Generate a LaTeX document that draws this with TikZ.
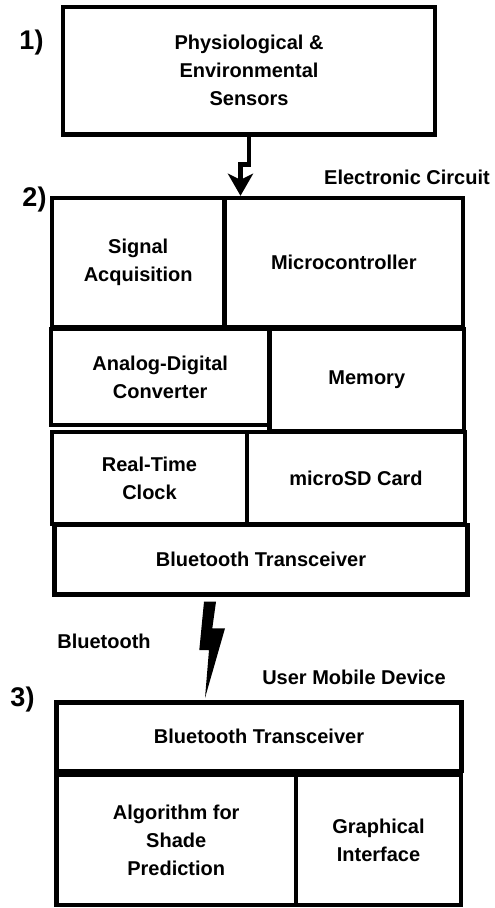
\documentclass[tikz,border=0pt]{standalone}
\usepackage{fontspec}
\setmainfont{Liberation Sans}
\usetikzlibrary{arrows.meta}

\begin{document}
\begin{tikzpicture}[x=1pt, y=-1pt, >=Stealth,
    blk/.style={draw, line width=2.2pt, align=center, inner sep=0pt,
      font=\fontsize{10}{14}\selectfont\bfseries},
    tag/.style={font=\fontsize{10}{12}\selectfont\bfseries},
    num/.style={font=\fontsize{13.5}{15}\selectfont\bfseries}]
  \useasboundingbox (0,0) rectangle (247,454);
  % 1) sensors
  \node[blk, minimum width=186pt, minimum height=63.75pt] (sens) at (124.5,35.4) {Physiological \&\\Environmental\\Sensors};
  \node[num] (n1) at (15.75,21.5) {1)};
  % 2) electronic circuit
  \node[blk, minimum width=86.25pt, minimum height=64.5pt] (sig) at (69.1,131.25) {Signal\\Acquisition};
  \node[blk, minimum width=119.25pt, minimum height=64.5pt] (mcu) at (171.9,131.25) {Microcontroller};
  \node[blk, minimum width=109.25pt, minimum height=48pt] (adc) at (80.1,188.5) {Analog-Digital\\Converter};
  \node[blk, minimum width=97.25pt, minimum height=51pt] (mem) at (183.4,190) {Memory};
  \node[blk, minimum width=97.5pt, minimum height=46pt] (rtc) at (74.75,239) {Real-Time\\Clock};
  \node[blk, minimum width=109pt, minimum height=46pt] (sd) at (178,239) {microSD Card};
  \node[blk, minimum width=206.5pt, minimum height=34.75pt] (bta) at (130.5,279.9) {Bluetooth Transceiver};
  \node[num] (n2) at (17.25,100) {2)};
  \node[tag] (circ) at (203.5,88.75) {Electronic Circuit};
  % 3) mobile device
  \node[blk, minimum width=202.5pt, minimum height=34.25pt] (btb) at (129.5,368.4) {Bluetooth Transceiver};
  \node[blk, minimum width=119.75pt, minimum height=65pt] (alg) at (88.1,420) {Algorithm for\\Shade\\Prediction};
  \node[blk, minimum width=82.5pt, minimum height=65pt] (gui) at (189.25,420) {Graphical\\Interface};
  \node[num] (n3) at (11.25,350) {3)};
  \node[tag] (mob) at (177,338.5) {User Mobile Device};
  \node[tag] (bt) at (52,320.5) {Bluetooth};

  % sensors to circuit
  \coordinate (jog) at (120.25,82.25);
  \draw[line width=2.2pt, -{Stealth[length=11pt, width=12.5pt, inset=3pt]}]
    (sens.south) |- (jog) -- (jog |- mcu.north);

  % wireless link
  \fill (102,300.85) -- (108,300.85) -- (106.15,314.15) -- (112.5,314.15)
    -- (102.5,349) -- (104.5,325) -- (99.65,325) -- cycle;
\end{tikzpicture}
\end{document}
